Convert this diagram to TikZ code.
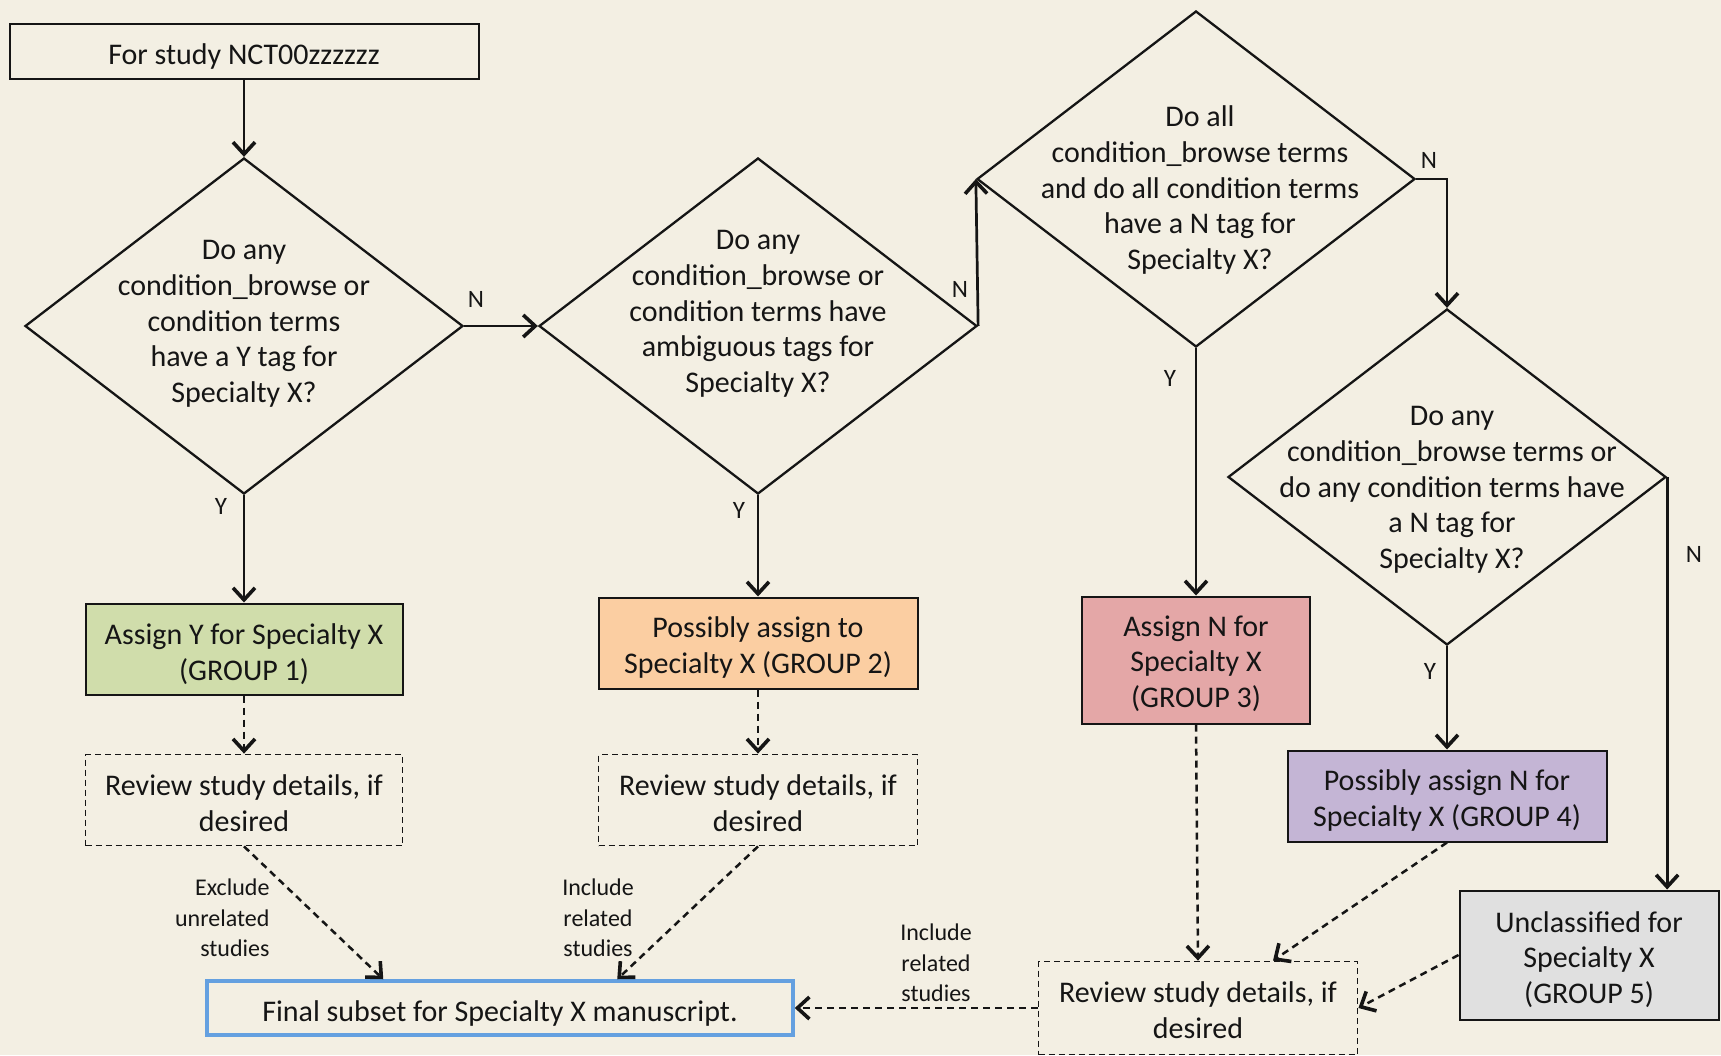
\documentclass[tikz,border=0pt]{standalone}
\usepackage{fontspec}
\setmainfont{Carlito}
\usetikzlibrary{arrows.meta,shapes.geometric,calc}
\definecolor{bg}{HTML}{F3EFE3}
\definecolor{ink}{HTML}{151515}
\definecolor{gone}{HTML}{D0DDAB}
\definecolor{gtwo}{HTML}{FBCEA2}
\definecolor{gthree}{HTML}{E4A7A7}
\definecolor{gfour}{HTML}{C4B5D5}
\definecolor{gfive}{HTML}{E0E0E0}
\definecolor{finalblue}{HTML}{64A0E0}
\begin{document}
\begin{tikzpicture}[x=1pt,y=-1pt,
  every node/.style={text=ink},
  maintext/.style={font=\fontsize{30}{35.7}\selectfont, align=center},
  smalltext/.style={font=\fontsize{24}{30.7}\selectfont, align=center},
  yn/.style={font=\fontsize{25}{30}\selectfont},
  plainbox/.style={draw=ink, line width=2pt, inner sep=0pt},
  dashbox/.style={draw=ink, line width=1.8pt, inner sep=0pt, dash pattern=on 6pt off 4pt},
  dia/.style={shape=diamond, draw=ink, line width=2.3pt, inner sep=0pt, minimum width=438, minimum height=336},
  tip/.style={-{Straight Barb[length=12pt,width=22pt,line width=3.6pt]}},
  arr/.style={draw=ink, line width=2.7pt, tip},
  darr/.style={draw=ink, line width=2.5pt, dash pattern=on 7pt off 5pt, tip}
]
\path[fill=bg] (0,0) rectangle (1721,1055);
\useasboundingbox (0,0) rectangle (1721,1055);

% start
\node[plainbox, minimum width=469, minimum height=55] (start) at (244,51) {};
\node[maintext] (startt) at ($(start)+(0,5)$) {For study NCT00zzzzzz};

% diamonds
\node[dia] (d1) at (244,326) {};
\node[maintext] (t1) at (244,324) {Do any\\condition\_browse or\\condition terms\\have a Y tag for\\Specialty X?};
\node[dia] (d2) at (758,326) {};
\node[maintext] (t2) at (758,314) {Do any\\condition\_browse or\\condition terms have\\ambiguous tags for\\Specialty X?};
\node[dia] (d3) at (1196,179) {};
\node[maintext] (t3) at (1200,190) {Do all\\condition\_browse terms\\and do all condition terms\\have a N tag for\\Specialty X?};
\node[dia] (d4) at (1447,477) {};
\node[maintext] (t4) at (1452,490) {Do any\\condition\_browse terms or\\do any condition terms have\\a N tag for\\Specialty X?};

% group boxes
\node[plainbox, fill=gone, minimum width=317, minimum height=91] (g1) at (244,649) {};
\node[maintext] (g1t) at ($(g1)+(0,5)$) {Assign Y for Specialty X\\(GROUP 1)};
\node[plainbox, fill=gtwo, minimum width=319, minimum height=91] (g2) at (758,643) {};
\node[maintext] (g2t) at ($(g2)+(0,4.5)$) {Possibly assign to\\Specialty X (GROUP 2)};
\node[plainbox, fill=gthree, minimum width=228, minimum height=127] (g3) at (1196,660) {};
\node[maintext] (g3t) at ($(g3)+(0,3.5)$) {Assign N for\\Specialty X\\(GROUP 3)};
\node[plainbox, fill=gfour, minimum width=319, minimum height=91] (g4) at (1447,796) {};
\node[maintext] (g4t) at ($(g4)+(0,4.5)$) {Possibly assign N for\\Specialty X (GROUP 4)};
\node[plainbox, fill=gfive, minimum width=259, minimum height=129] (g5) at (1589,955) {};
\node[maintext] (g5t) at ($(g5)+(0,4.5)$) {Unclassified for\\Specialty X\\(GROUP 5)};

% review boxes
\node[dashbox, minimum width=317, minimum height=91] (r1) at (244,800) {};
\node[maintext] (r1t) at ($(r1)+(0,3.5)$) {Review study details, if\\desired};
\node[dashbox, minimum width=319, minimum height=91] (r2) at (758,800) {};
\node[maintext] (r2t) at ($(r2)+(0,3.5)$) {Review study details, if\\desired};
\node[dashbox, minimum width=319, minimum height=93] (r3) at (1198,1008) {};
\node[maintext] (r3t) at ($(r3)+(0,2.5)$) {Review study details, if\\desired};

% final
\node[draw=finalblue, line width=3.5pt, inner sep=0pt, minimum width=586, minimum height=54] (final) at (500,1008) {};
\node[maintext] (finalt) at ($(final)+(0,5.5)$) {Final subset for Specialty X manuscript.};

% solid connectors
\draw[arr] (start.south) -- (d1.north);
\draw[arr] (d1.east) -- (d2.west);
\draw[arr] (d1.south) -- (g1.north);
\draw[arr] (d2.south) -- (g2.north);
\draw[arr] (d2.east) -- (d3.west);
\draw[arr] (d3.east) -| (d4.north);
\draw[arr] (d3.south) -- (g3.north);
\draw[arr] (d4.south) -- (g4.north);
\coordinate (g5in) at (d4.east |- g5.north);
\draw[arr] (d4.east) -- (g5in);

% dashed connectors
\draw[darr] (g1.south) -- (r1.north);
\draw[darr] (g2.south) -- (r2.north);
\draw[darr] (g3.south) -- (r3.north);
\coordinate (fin1) at ($(final.north west)+(178,0)$);
\coordinate (fin2) at ($(final.north west)+(412,0)$);
\coordinate (r3in) at ($(r3.north)+(75,0)$);
\draw[darr] (r1.south) -- (fin1);
\draw[darr] (r2.south) -- (fin2);
\draw[darr] (g4.south) -- (r3in);
\draw[darr] (g5.west) -- (r3.east);
\draw[darr] (r3.west) -- (final.east);

% Y/N labels
\node[yn] (n1) at (476,299) {N};
\node[yn] (y1) at (221,506) {Y};
\node[yn] (y2) at (739,510) {Y};
\node[yn] (n2) at (960,289) {N};
\node[yn] (n3) at (1429,160) {N};
\node[yn] (y3) at (1170,378) {Y};
\node[yn] (y4) at (1430,671) {Y};
\node[yn] (n4) at (1694,554) {N};

% small labels
\node[smalltext, align=right, anchor=east] (l1) at (273,918) {Exclude\\unrelated\\studies};
\node[smalltext] (l2) at (598,918) {Include\\related\\studies};
\node[smalltext] (l3) at (936,963) {Include\\related\\studies};
\end{tikzpicture}
\end{document}
